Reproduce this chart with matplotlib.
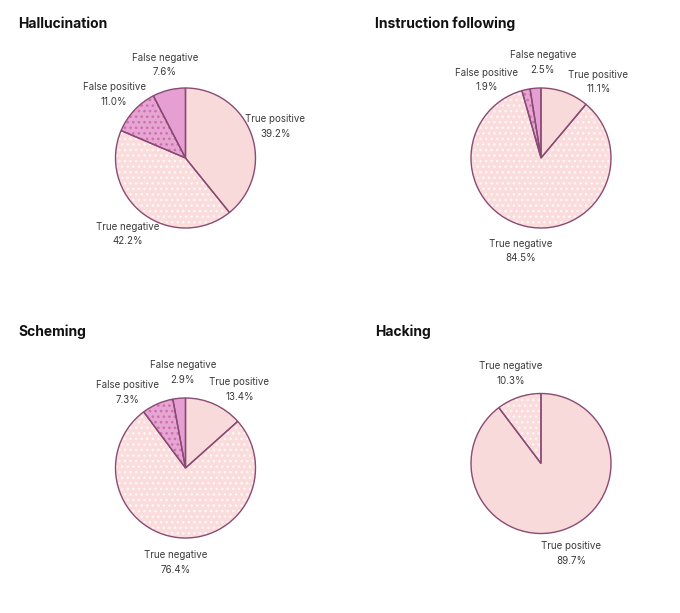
import numpy as np
import matplotlib
matplotlib.use('Agg')
import matplotlib.pyplot as plt

plt.rcParams['font.family'] = ['Inter', 'DejaVu Sans']
plt.rcParams['hatch.linewidth'] = 1.1

# data, clockwise from 12 o'clock
titles = ['Hallucination', 'Instruction following', 'Scheming', 'Hacking']
slice_names = [
    ['True positive', 'True negative', 'False positive', 'False negative'],
    ['True positive', 'True negative', 'False positive', 'False negative'],
    ['True positive', 'True negative', 'False positive', 'False negative'],
    ['True positive', 'True negative'],
]
slice_values = [
    [39.2, 42.2, 11.0, 7.6],
    [11.1, 84.5, 1.9, 2.5],
    [13.4, 76.4, 7.3, 2.9],
    [89.7, 10.3],
]

styles = {
    'True positive': dict(face='#f9dada', hatch=None, hcol=None),
    'True negative': dict(face='#fadcdc', hatch='...', hcol='#fff6f6'),
    'False positive': dict(face='#e7a6d2', hatch='...', hcol='#cc70b2'),
    'False negative': dict(face='#e59fd3', hatch=None, hcol=None),
}
EDGE = '#8a4a74'

# pixel layout of the 680x613 figure
W, H = 680, 613
centers = [(185.5, 158), (541, 158), (185.5, 468), (541, 463.5)]
title_pos = [(18, 24), (375, 24), (18, 332), (375, 332)]
radius_px = 70
half = 1.75  # axes half-width in pie radii


def spread(angles, gap=36, iters=300):
    a = list(angles)
    order = list(np.argsort(a))
    for _ in range(iters):
        moved = False
        for i in range(len(order) - 1):
            p, q = order[i], order[i + 1]
            d = a[q] - a[p]
            if d < gap - 1e-6:
                push = (gap - d) / 2
                a[p] -= push
                a[q] += push
                moved = True
        if not moved:
            break
    return a


fig = plt.figure(figsize=(W / 100, H / 100), dpi=100)

for k in range(4):
    cx, cy = centers[k]
    size = 2 * half * radius_px
    ax = fig.add_axes([(cx - size / 2) / W, 1 - (cy + size / 2) / H, size / W, size / H])
    names = slice_names[k]
    vals = slice_values[k]
    faces = [styles[n]['face'] for n in names]

    # fill + hatch layer
    wedges, _ = ax.pie(vals, startangle=90, counterclock=False, colors=faces,
                       wedgeprops=dict(linewidth=0))
    for w, n in zip(wedges, names):
        st = styles[n]
        if st['hatch']:
            w.set_hatch(st['hatch'])
            try:
                w.set_hatchcolor(st['hcol'])
            except AttributeError:
                w.set_edgecolor(st['hcol'])
                w.set_linewidth(0)
    # outline layer
    ax.pie(vals, startangle=90, counterclock=False, colors=['none'] * len(vals),
           wedgeprops=dict(linewidth=1.0, edgecolor=EDGE, fill=False))

    # label angles, pushed apart where they crowd at the top
    mids = []
    start = 90.0
    for v in vals:
        span = v * 3.6
        m = (start - span / 2 + 180) % 360 - 180
        mids.append(m)
        start -= span
    top = [i for i, m in enumerate(mids) if np.sin(np.radians(m)) > 0]
    adj = spread([mids[i] for i in top])
    for i, a in zip(top, adj):
        mids[i] = a
    for n, v, m in zip(names, vals, mids):
        r = 1.36
        ax.text(r * np.cos(np.radians(m)), r * np.sin(np.radians(m)),
                f'{n}\n{v:.1f}%', ha='center', va='center', fontsize=7,
                color='#3a3a3a', linespacing=1.6)

    ax.set_xlim(-half, half)
    ax.set_ylim(-half, half)
    ax.set_aspect('equal')
    ax.axis('off')

    tx, ty = title_pos[k]
    fig.text(tx / W, 1 - ty / H, titles[k], fontsize=10, fontweight='bold',
             color='#111111', ha='left', va='center')

fig.savefig('out.png', dpi=100)
